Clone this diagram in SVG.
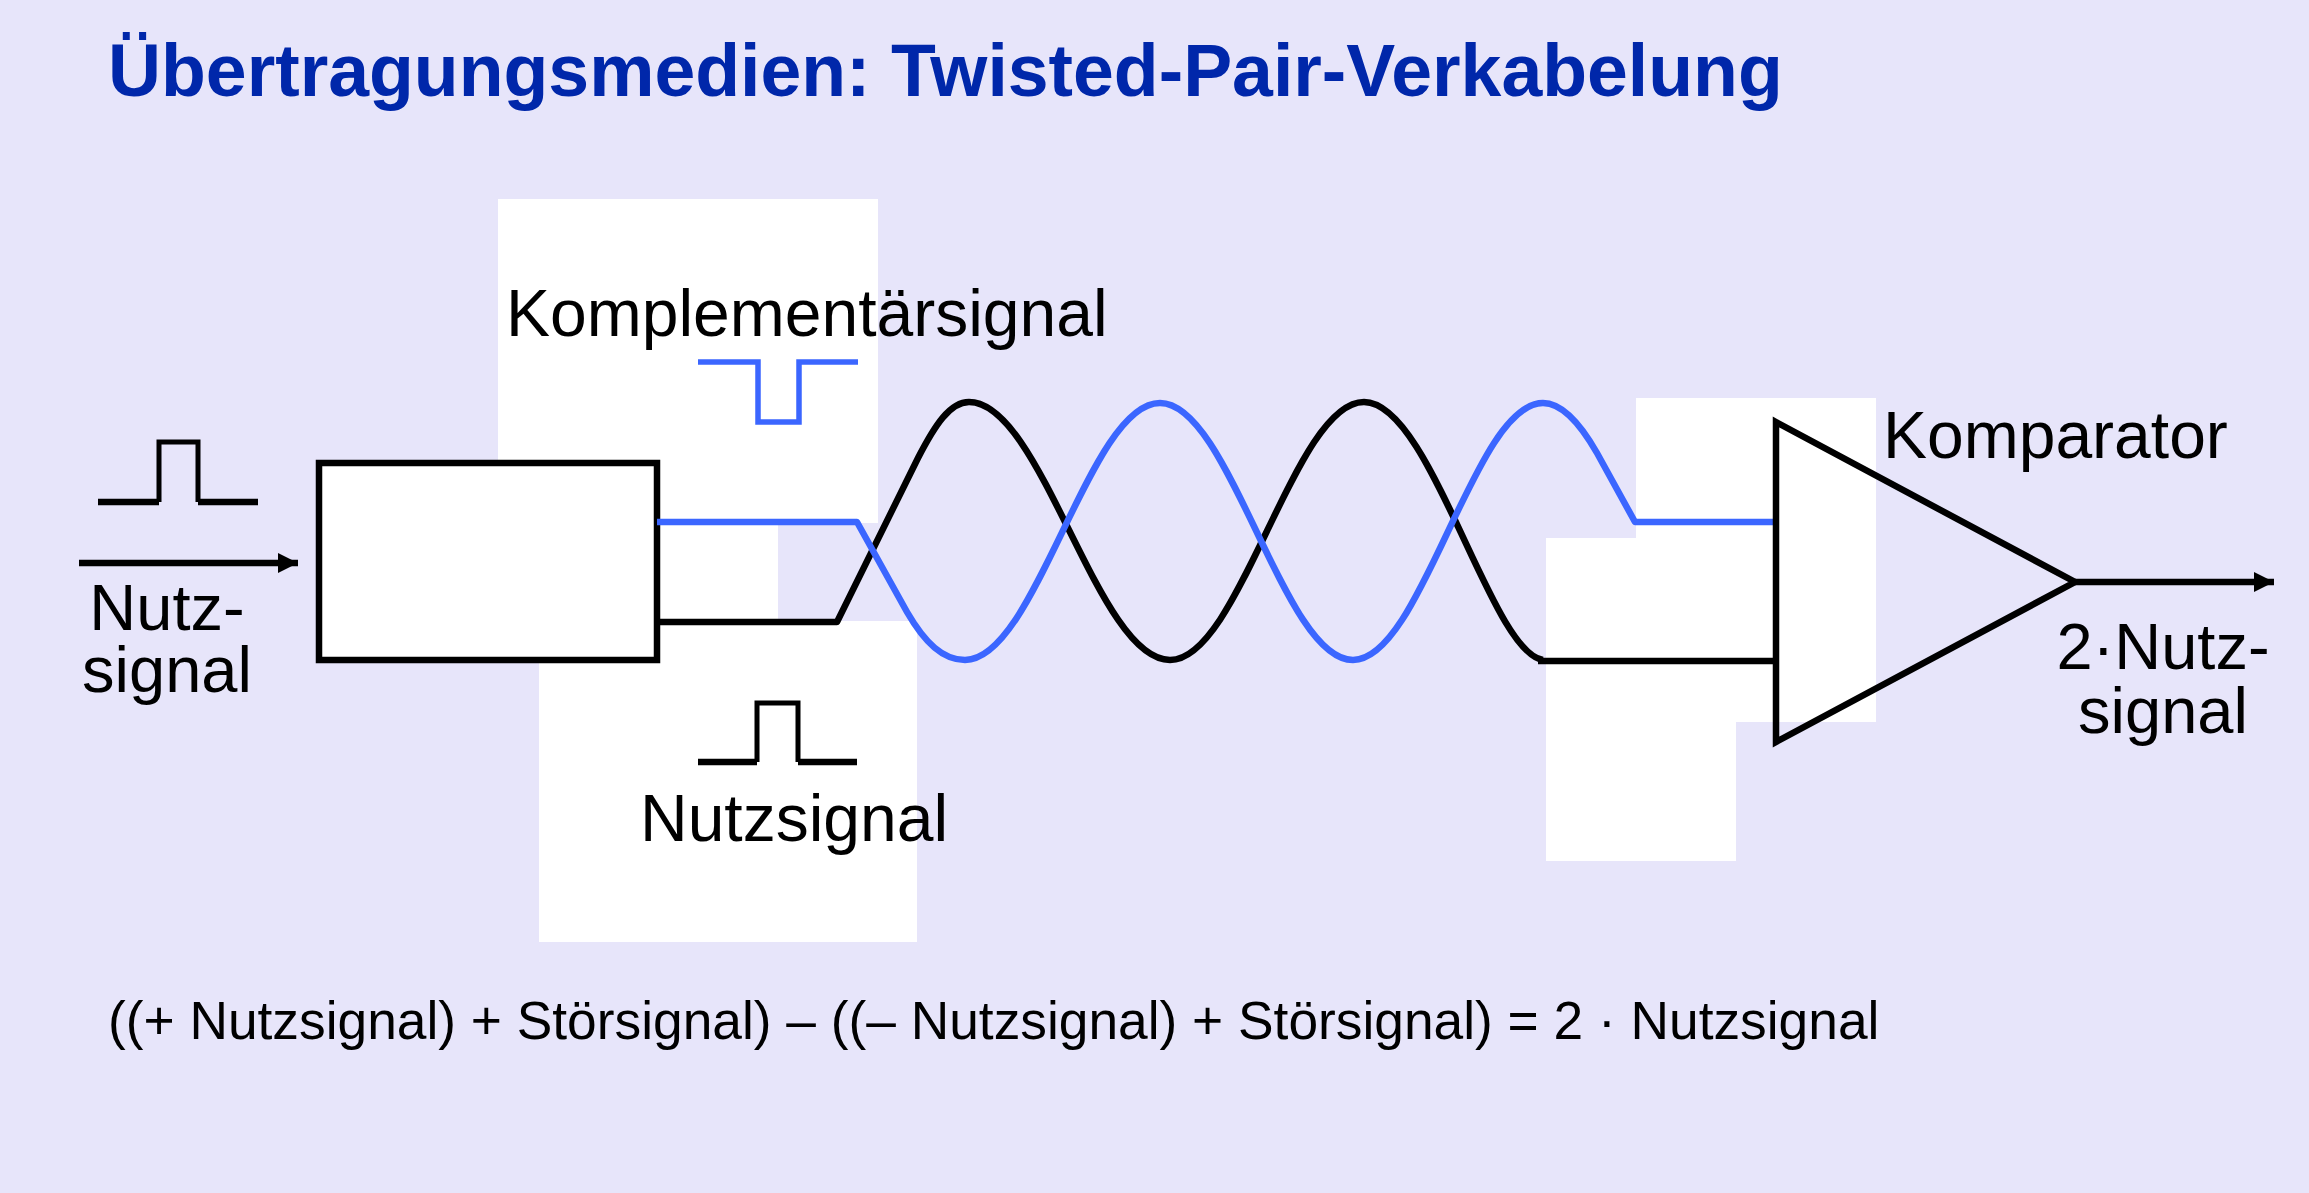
<svg xmlns="http://www.w3.org/2000/svg" width="2309" height="1193" viewBox="0 0 2309 1193">
  <defs>
    <style>
      .lbl { font-family: "Liberation Sans", Arial, sans-serif; fill: #000; }
      .title { font-family: "Liberation Sans", Arial, sans-serif; font-weight: bold; fill: #0027AA; }
      .bw { fill: none; stroke: #000; stroke-width: 6.5; stroke-linejoin: round; }
      .blw { fill: none; stroke: #3B66FF; stroke-width: 6.5; stroke-linejoin: round; }
      .pulse { fill: none; stroke: #000; stroke-width: 5; stroke-linejoin: miter; }
      .pulseb { fill: none; stroke: #3B66FF; stroke-width: 5.5; stroke-linejoin: miter; }
      .pane { fill: #FFFFFF; stroke: none; }
    </style>
    <marker id="arrow" viewBox="0 0 20 20" refX="20" refY="10" markerWidth="20" markerHeight="20" markerUnits="userSpaceOnUse" orient="auto">
      <path d="M0,0 L20,10 L0,20 Z" fill="#000"/>
    </marker>
  </defs>

  <rect x="0" y="0" width="2309" height="1193" fill="#E7E5FA"/>

  <g id="backgrounds">
    <rect class="pane" x="498" y="199" width="380" height="324"/>
    <rect class="pane" x="498" y="199" width="280" height="422"/>
    <rect class="pane" x="539" y="621" width="378" height="321"/>
    <rect class="pane" x="1636" y="398" width="240" height="324"/>
    <rect class="pane" x="1546" y="538" width="190" height="323"/>
  </g>

  <g id="title">
    <text class="title" x="108" y="96" font-size="73.4">Übertragungsmedien: Twisted-Pair-Verkabelung</text>
  </g>

  <g id="input-signal">
    <path class="pulse" d="M159,502 L159,442 L198,442 L198,502"/>
    <path class="bw" style="stroke-linejoin:miter" d="M98,502 L159,502 M198,502 L258,502"/>
    <text class="lbl" x="167" y="630" font-size="65" text-anchor="middle">Nutz-</text>
    <text class="lbl" x="167" y="692" font-size="65" text-anchor="middle">signal</text>
  </g>

  <g id="transmitter">
    <rect x="319" y="463" width="338" height="197" fill="#FFFFFF" stroke="#000" stroke-width="6.5"/>
  </g>

  <g id="complement-label">
    <text class="lbl" x="506" y="336" font-size="66">Komplementärsignal</text>
    <path class="pulseb" d="M698,362 L758,362 L758,422 L799,422 L799,362 L858,362"/>
  </g>

  <g id="useful-label">
    <path class="pulse" d="M757,762 L757,703 L798,703 L798,762"/>
    <path class="bw" style="stroke-linejoin:miter" d="M698,762 L757,762 M798,762 L857,762"/>
    <text class="lbl" x="640" y="841" font-size="66">Nutzsignal</text>
  </g>

  <g id="connectors">
    <line class="bw" x1="79" y1="563" x2="298" y2="563" marker-end="url(#arrow)"/>
    <path id="wire-black" class="bw" d="M657,622 L837,622 L918,458 C935,425 950,402 969,402 C1042,402 1097,660 1170,660 C1240,660 1294,402 1364,402 C1431,402 1490,652 1543,660 M1538,661 L1776,661"/>
    <path id="wire-blue" class="blw" d="M657,522 L857,522 L907,612 C925,643 943,660 965,660 C1036,660 1089,403 1160,403 C1230,403 1283,660 1353,660 C1422,660 1474,403 1543,403 C1565,403 1585,432 1597,453 L1635,522 L1776,522"/>
    <line class="bw" x1="2075" y1="582" x2="2274" y2="582" marker-end="url(#arrow)"/>
  </g>

  <g id="comparator">
    <path class="bw" style="stroke-linejoin:miter" d="M1776,422 L2075,582 L1776,742 Z"/>
    <text class="lbl" x="1883" y="458" font-size="66">Komparator</text>
  </g>

  <g id="output-label">
    <text class="lbl" x="2163" y="669" font-size="65" text-anchor="middle">2·Nutz-</text>
    <text class="lbl" x="2163" y="733" font-size="65" text-anchor="middle">signal</text>
  </g>

  <g id="equation">
    <text class="lbl" x="108" y="1039" font-size="53.3">((+ Nutzsignal) + Störsignal) – ((– Nutzsignal) + Störsignal) = 2 · Nutzsignal</text>
  </g>
</svg>
